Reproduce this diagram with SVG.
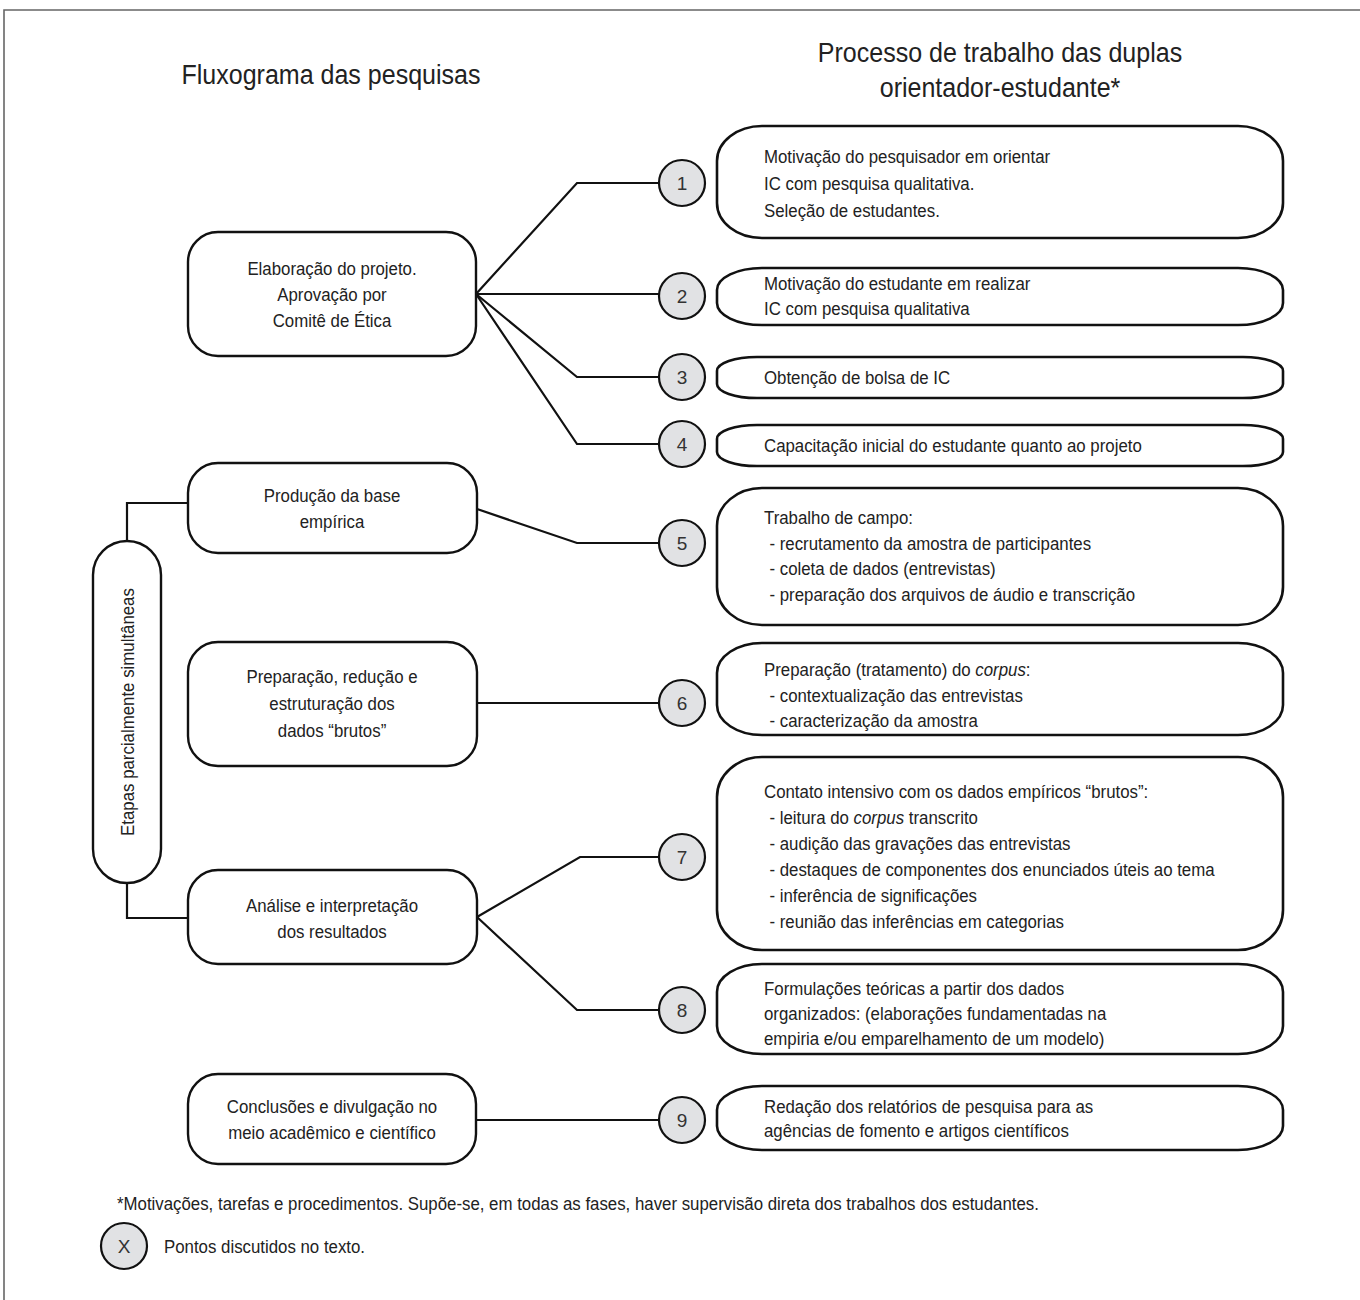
<svg xmlns="http://www.w3.org/2000/svg" width="1360" height="1300" viewBox="0 0 1360 1300">
<style>
text{font-family:"Liberation Sans",Arial,sans-serif;fill:#222}
.title{font-size:27.5px;text-anchor:middle}
.lbl{font-size:18.5px}
.ctr{text-anchor:middle}
.num{font-size:19px;text-anchor:middle;fill:#333}
.lbox{fill:#fff;stroke:#111;stroke-width:2.4}
.rbox{fill:#fff;stroke:#111;stroke-width:2.6}
.circ{fill:#e1e2e4;stroke:#111;stroke-width:2.2}
.conn{fill:none;stroke:#111;stroke-width:2.2;stroke-linejoin:miter}
.frame{fill:none;stroke:#666;stroke-width:1.6}
.it{font-style:italic}
</style>

<path class="frame" d="M4,1300 V10 H1360"/>

<g id="titles">
<text class="title" transform="translate(331,84) scale(0.91,1)">Fluxograma das pesquisas</text>
<text class="title" transform="translate(1000,62) scale(0.91,1)"><tspan x="0">Processo de trabalho das duplas</tspan><tspan x="0" dy="35">orientador-estudante*</tspan></text>
</g>

<g id="connectors">
<path class="conn" d="M476,294 L577,183 H660"/>
<path class="conn" d="M476,294 H660"/>
<path class="conn" d="M476,294 L577,377 H660"/>
<path class="conn" d="M476,294 L577,444 H660"/>
<path class="conn" d="M477,509 L577,543 H660"/>
<path class="conn" d="M477,703 H660"/>
<path class="conn" d="M477,917 L580,857 H660"/>
<path class="conn" d="M477,917 L577,1010 H660"/>
<path class="conn" d="M476,1120 H660"/>
<path class="conn" d="M188,503 H127 V541"/>
<path class="conn" d="M127,883 V918 H188"/>
</g>

<g id="etapas">
<rect class="lbox" x="93" y="541" width="68" height="342" rx="34" ry="34"/>
<text class="lbl ctr" transform="translate(134,712) rotate(-90) scale(0.91,1)">Etapas parcialmente simultâneas</text>
</g>

<g id="n-elaboracao">
<rect class="lbox" x="188" y="232" width="288" height="124" rx="30" ry="30"/>
<text class="lbl ctr" transform="translate(332,275) scale(0.91,1)"><tspan x="0">Elaboração do projeto.</tspan><tspan x="0" dy="26">Aprovação por</tspan><tspan x="0" dy="26">Comitê de Ética</tspan></text>
</g>

<g id="n-producao">
<rect class="lbox" x="188" y="463" width="289" height="90" rx="30" ry="30"/>
<text class="lbl ctr" transform="translate(332,502) scale(0.91,1)"><tspan x="0">Produção da base</tspan><tspan x="0" dy="26">empírica</tspan></text>
</g>

<g id="n-preparacao">
<rect class="lbox" x="188" y="642" width="289" height="124" rx="30" ry="30"/>
<text class="lbl ctr" transform="translate(332,683) scale(0.91,1)"><tspan x="0">Preparação, redução e</tspan><tspan x="0" dy="27">estruturação dos</tspan><tspan x="0" dy="27">dados “brutos”</tspan></text>
</g>

<g id="n-analise">
<rect class="lbox" x="188" y="870" width="289" height="94" rx="30" ry="30"/>
<text class="lbl ctr" transform="translate(332,912) scale(0.91,1)"><tspan x="0">Análise e interpretação</tspan><tspan x="0" dy="26">dos resultados</tspan></text>
</g>

<g id="n-conclusoes">
<rect class="lbox" x="188" y="1074" width="288" height="90" rx="30" ry="30"/>
<text class="lbl ctr" transform="translate(332,1113) scale(0.91,1)"><tspan x="0">Conclusões e divulgação no</tspan><tspan x="0" dy="26">meio acadêmico e científico</tspan></text>
</g>

<g id="c1"><circle class="circ" cx="682" cy="183" r="23"/><text class="num" x="682" y="190">1</text></g>
<g id="c2"><circle class="circ" cx="682" cy="296" r="23"/><text class="num" x="682" y="303">2</text></g>
<g id="c3"><circle class="circ" cx="682" cy="377" r="23"/><text class="num" x="682" y="384">3</text></g>
<g id="c4"><circle class="circ" cx="682" cy="444" r="23"/><text class="num" x="682" y="451">4</text></g>
<g id="c5"><circle class="circ" cx="682" cy="543" r="23"/><text class="num" x="682" y="550">5</text></g>
<g id="c6"><circle class="circ" cx="682" cy="703" r="23"/><text class="num" x="682" y="710">6</text></g>
<g id="c7"><circle class="circ" cx="682" cy="857" r="23"/><text class="num" x="682" y="864">7</text></g>
<g id="c8"><circle class="circ" cx="682" cy="1010" r="23"/><text class="num" x="682" y="1017">8</text></g>
<g id="c9"><circle class="circ" cx="682" cy="1120" r="23"/><text class="num" x="682" y="1127">9</text></g>

<g id="r1">
<rect class="rbox" x="717" y="126" width="566" height="112" rx="45" ry="35"/>
<text class="lbl" transform="translate(764,163) scale(0.91,1)"><tspan x="0">Motivação do pesquisador em orientar</tspan><tspan x="0" dy="27">IC com pesquisa qualitativa.</tspan><tspan x="0" dy="27">Seleção de estudantes.</tspan></text>
</g>
<g id="r2">
<rect class="rbox" x="717" y="268" width="566" height="57" rx="45" ry="22"/>
<text class="lbl" transform="translate(764,290) scale(0.91,1)"><tspan x="0">Motivação do estudante em realizar</tspan><tspan x="0" dy="25">IC com pesquisa qualitativa</tspan></text>
</g>
<g id="r3">
<rect class="rbox" x="717" y="357" width="566" height="41" rx="40" ry="14"/>
<text class="lbl" transform="translate(764,384) scale(0.91,1)">Obtenção de bolsa de IC</text>
</g>
<g id="r4">
<rect class="rbox" x="717" y="425" width="566" height="41" rx="40" ry="14"/>
<text class="lbl" transform="translate(764,452) scale(0.91,1)">Capacitação inicial do estudante quanto ao projeto</text>
</g>
<g id="r5">
<rect class="rbox" x="717" y="488" width="566" height="137" rx="45" ry="38"/>
<text class="lbl" transform="translate(764,524) scale(0.91,1)"><tspan x="0">Trabalho de campo:</tspan><tspan x="6" dy="25.7">- recrutamento da amostra de participantes</tspan><tspan x="6" dy="25.7">- coleta de dados (entrevistas)</tspan><tspan x="6" dy="25.7">- preparação dos arquivos de áudio e transcrição</tspan></text>
</g>
<g id="r6">
<rect class="rbox" x="717" y="643" width="566" height="92" rx="45" ry="30"/>
<text class="lbl" transform="translate(764,676) scale(0.91,1)"><tspan x="0">Preparação (tratamento) do <tspan class="it">corpus</tspan>:</tspan><tspan x="6" dy="25.7">- contextualização das entrevistas</tspan><tspan x="6" dy="25.7">- caracterização da amostra</tspan></text>
</g>
<g id="r7">
<rect class="rbox" x="717" y="757" width="566" height="193" rx="45" ry="40"/>
<text class="lbl" transform="translate(764,798) scale(0.91,1)"><tspan x="0">Contato intensivo com os dados empíricos “brutos”:</tspan><tspan x="6" dy="26">- leitura do <tspan class="it">corpus</tspan> transcrito</tspan><tspan x="6" dy="26">- audição das gravações das entrevistas</tspan><tspan x="6" dy="26">- destaques de componentes dos enunciados úteis ao tema</tspan><tspan x="6" dy="26">- inferência de significações</tspan><tspan x="6" dy="26">- reunião das inferências em categorias</tspan></text>
</g>
<g id="r8">
<rect class="rbox" x="717" y="964" width="566" height="90" rx="45" ry="28"/>
<text class="lbl" transform="translate(764,995) scale(0.91,1)"><tspan x="0">Formulações teóricas a partir dos dados</tspan><tspan x="0" dy="25">organizados: (elaborações fundamentadas na</tspan><tspan x="0" dy="25">empiria e/ou emparelhamento de um modelo)</tspan></text>
</g>
<g id="r9">
<rect class="rbox" x="717" y="1086" width="566" height="64" rx="45" ry="24"/>
<text class="lbl" transform="translate(764,1113) scale(0.91,1)"><tspan x="0">Redação dos relatórios de pesquisa para as</tspan><tspan x="0" dy="24">agências de fomento e artigos científicos</tspan></text>
</g>

<g id="footer">
<text class="lbl" transform="translate(117,1210) scale(0.91,1)">*Motivações, tarefas e procedimentos. Supõe-se, em todas as fases, haver supervisão direta dos trabalhos dos estudantes.</text>
</g>
<g id="legend">
<circle class="circ" cx="124" cy="1246" r="23"/>
<text class="num" x="124" y="1253">X</text>
<text class="lbl" transform="translate(164,1253) scale(0.91,1)">Pontos discutidos no texto.</text>
</g>
</svg>
